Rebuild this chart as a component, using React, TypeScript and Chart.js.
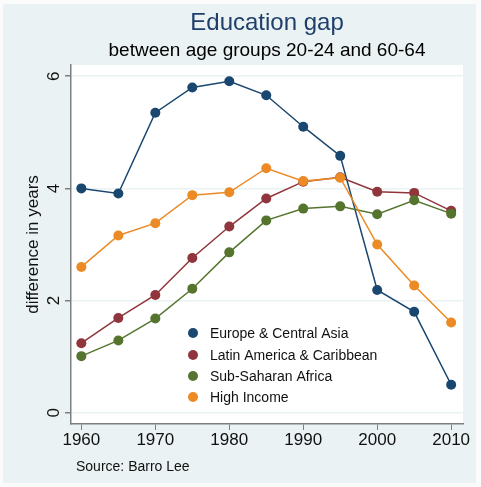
import React, { useEffect, useRef } from "react";
import { Chart, registerables } from "chart.js";

Chart.register(...registerables);

const years = [1960, 1965, 1970, 1975, 1980, 1985, 1990, 1995, 2000, 2005, 2010];
const europe = [4.0, 3.91, 5.35, 5.8, 5.91, 5.66, 5.1, 4.58, 2.19, 1.8, 0.5];
const latin = [1.24, 1.69, 2.1, 2.76, 3.32, 3.82, 4.12, 4.2, 3.94, 3.92, 3.6];
const subSaharan = [1.01, 1.29, 1.68, 2.21, 2.86, 3.43, 3.64, 3.68, 3.54, 3.79, 3.55];
const highIncome = [2.6, 3.16, 3.38, 3.88, 3.93, 4.36, 4.13, 4.19, 3.0, 2.27, 1.61];

const seriesNames = [
  "Europe & Central Asia",
  "Latin America & Caribbean",
  "Sub-Saharan Africa",
  "High Income",
];
const seriesColors = ["#1a476f", "#90353b", "#55752f", "#ec8a25"];
const seriesValues = [europe, latin, subSaharan, highIncome];

const xTicks = [1960, 1970, 1980, 1990, 2000, 2010];
const yTicks = [0, 2, 4, 6];

const titleText = "Education gap";
const subtitleText = "between age groups 20-24 and 60-64";
const yTitle = "difference in years";
const sourceText = "Source: Barro Lee";

const FONT = "'Liberation Sans', Arial, Helvetica, sans-serif";
const BG = "#eaf2f3";
const AXIS = "#7f7f7f";

const decorPlugin = {
  id: "decor",
  beforeDraw(chart: any) {
    const { ctx, width, height, chartArea } = chart;
    ctx.save();
    ctx.fillStyle = "#fbfbfb";
    ctx.fillRect(0, 0, width, height);
    ctx.fillStyle = BG;
    ctx.fillRect(3, 4, 473, 479);
    ctx.fillStyle = "#ffffff";
    ctx.fillRect(chartArea.left, chartArea.top, chartArea.right - chartArea.left, chartArea.bottom - chartArea.top);
    ctx.restore();
  },
  afterDraw(chart: any) {
    const { ctx, chartArea } = chart;
    const cx = (chartArea.left + chartArea.right) / 2;
    ctx.save();
    // titles
    ctx.textAlign = "center";
    ctx.textBaseline = "alphabetic";
    ctx.fillStyle = "#1f3f6b";
    ctx.font = `24px ${FONT}`;
    ctx.fillText(titleText, cx, 30);
    ctx.fillStyle = "#000000";
    ctx.font = `19px ${FONT}`;
    ctx.fillText(subtitleText, cx, 56);
    // y axis title
    ctx.save();
    ctx.translate(38, (chartArea.top + chartArea.bottom) / 2);
    ctx.rotate(-Math.PI / 2);
    ctx.font = `17px ${FONT}`;
    ctx.fillStyle = "#111";
    ctx.textAlign = "center";
    ctx.fillText(yTitle, 0, 0);
    ctx.restore();
    // y tick labels (rotated)
    const yScale = chart.scales.y;
    ctx.font = `17px ${FONT}`;
    ctx.fillStyle = "#111";
    for (const v of yTicks) {
      const py = yScale.getPixelForValue(v);
      ctx.save();
      ctx.translate(59, py);
      ctx.rotate(-Math.PI / 2);
      ctx.textAlign = "center";
      ctx.fillText(String(v), 0, 0);
      ctx.restore();
    }
    // legend
    const lx = 193;
    const ly = [333, 355, 376, 397];
    ctx.font = `14px ${FONT}`;
    ctx.textAlign = "left";
    ctx.textBaseline = "middle";
    seriesNames.forEach((name, i) => {
      ctx.fillStyle = seriesColors[i];
      ctx.beginPath();
      ctx.arc(lx, ly[i], 5, 0, Math.PI * 2);
      ctx.fill();
      ctx.fillStyle = "#111";
      ctx.fillText(name, 210, ly[i] + 1);
    });
    // source
    ctx.textBaseline = "alphabetic";
    ctx.font = `14px ${FONT}`;
    ctx.fillStyle = "#111";
    ctx.fillText(sourceText, 76, 471);
    ctx.restore();
  },
};

export default function App() {
  const ref = useRef<HTMLCanvasElement | null>(null);
  useEffect(() => {
    document.body.style.margin = "0";
    const canvas = ref.current;
    if (!canvas) return;
    const datasets = seriesNames.map((name, i) => ({
      label: name,
      data: years.map((yr, j) => ({ x: yr, y: seriesValues[i][j] })),
      borderColor: seriesColors[i],
      backgroundColor: seriesColors[i],
      pointBackgroundColor: seriesColors[i],
      pointBorderColor: seriesColors[i],
      pointRadius: 5,
      pointBorderWidth: 0,
      borderWidth: 1.5,
      tension: 0,
      fill: false,
      order: 4 - i,
    }));
    const chart = new Chart(canvas, {
      type: "line",
      data: { datasets },
      options: {
        responsive: false,
        devicePixelRatio: 1,
        animation: false,
        layout: { padding: { top: 65, right: 18, left: 0, bottom: 0 } },
        plugins: {
          legend: { display: false },
          tooltip: { enabled: false },
          title: { display: false },
        },
        scales: {
          x: {
            type: "linear",
            min: 1958.6,
            max: 2011.6,
            afterBuildTicks: (scale: any) => {
              scale.ticks = xTicks.map((v) => ({ value: v }));
            },
            afterFit: (scale: any) => {
              scale.height = 63;
            },
            grid: {
              drawOnChartArea: false,
              drawTicks: true,
              tickLength: 6,
              tickColor: AXIS,
              color: AXIS,
            },
            border: { display: true, color: AXIS, width: 1.5 },
            ticks: {
              font: { size: 17, family: FONT },
              color: "#111",
              padding: 0,
              maxRotation: 0,
              minRotation: 0,
              callback: (v: any) => String(v),
            },
          },
          y: {
            type: "linear",
            min: -0.2,
            max: 6.2,
            afterBuildTicks: (scale: any) => {
              scale.ticks = yTicks.map((v) => ({ value: v }));
            },
            afterFit: (scale: any) => {
              scale.width = 71;
            },
            grid: {
              color: BG,
              lineWidth: 1.5,
              drawTicks: true,
              tickLength: 6,
              tickColor: AXIS,
            },
            border: { display: true, color: AXIS, width: 1.5 },
            ticks: { display: false },
          },
        },
      },
      plugins: [decorPlugin],
    });
    return () => chart.destroy();
  }, []);
  return (
    <div style={{ position: "absolute", left: 0, top: 0, width: 481, height: 487 }}>
      <canvas ref={ref} width={481} height={487} style={{ width: 481, height: 487, display: "block" }} />
    </div>
  );
}
